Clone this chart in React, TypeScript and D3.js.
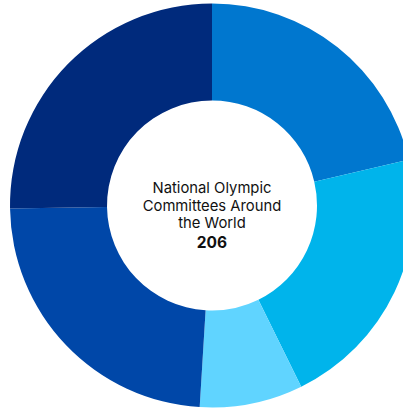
import React from "react";
import * as d3 from "d3";

const categories = ["Slice A", "Slice B", "Slice C", "Slice D", "Slice E"];
const values = [44, 44, 17, 49, 52];
const colors = ["#0077cf", "#00b4eb", "#60d4ff", "#0047a8", "#002a7c"];
const centerLines = ["National Olympic", "Committees Around", "the World"];
const totalLabel = "206";

export default function App() {
  const width = 403;
  const height = 409;
  const cx = 212;
  const cy = 205.5;
  const outerR = 202;
  const innerR = 105;

  const pie = d3.pie<number>().value((d) => d).sort(null);
  const arcs = pie(values);
  const arc = d3.arc<d3.PieArcDatum<number>>().innerRadius(innerR).outerRadius(outerR);

  return (
    <svg
      width={width}
      height={height}
      style={{ position: "absolute", left: 0, top: 0, display: "block" }}
    >
      <rect width={width} height={height} fill="#ffffff" />
      <g transform={`translate(${cx},${cy})`}>
        {arcs.map((a, i) => (
          <path key={categories[i]} d={arc(a) || ""} fill={colors[i]} />
        ))}
        <g fontFamily="Inter, 'Liberation Sans', Arial, sans-serif" fill="#111111" textAnchor="middle">
          {centerLines.map((t, i) => (
            <text key={t} x={0} y={-12.5 + i * 17.7} fontSize={14.8}>
              {t}
            </text>
          ))}
          <text x={0} y={42} fontSize={15.5} fontWeight={700}>
            {totalLabel}
          </text>
        </g>
      </g>
    </svg>
  );
}
